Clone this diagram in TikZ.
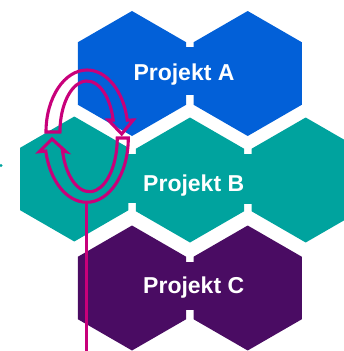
\documentclass[tikz,border=0pt]{standalone}
\usepackage{fontspec}
\setsansfont{Liberation Sans}
\usepackage{tikz}
\usetikzlibrary{shapes.geometric}
\definecolor{projblue}{RGB}{2,96,216}
\definecolor{projteal}{RGB}{0,163,158}
\definecolor{projpurple}{RGB}{74,12,99}
\definecolor{loopmagenta}{RGB}{200,0,122}
\tikzstyle{hex_cell} = [regular polygon, regular polygon sides=6, shape border rotate=30, minimum size=125pt, inner sep=0pt, outer sep=0pt]
\tikzstyle{hex_a} = [hex_cell, fill=projblue]
\tikzstyle{hex_b} = [hex_cell, fill=projteal]
\tikzstyle{hex_c} = [hex_cell, fill=projpurple]
\tikzstyle{label_proj} = [text=white, font=\sffamily\bfseries\fontsize{23}{23}\selectfont, anchor=base, inner sep=0pt]
\tikzstyle{loop_arrow} = [draw=loopmagenta, line width=3.1pt, line join=miter]
\tikzstyle{stem_line} = [draw=loopmagenta, line width=3pt]

\begin{document}
\begin{tikzpicture}[x=1pt, y=1pt]
			\useasboundingbox (0,0) rectangle (343,-351);
			\node (A1) at (132,-73.5) [hex_a] {};
			\node (A2) at (247.7,-73.5) [hex_a] {};
			\node (B1) at (74.3,-179) [hex_b] {};
			\node (B2) at (190,-180) [hex_b] {};
			\node (B3) at (305.7,-180) [hex_b] {};
			\node (C1) at (132,-288) [hex_c] {};
			\node (C2) at (247.7,-288) [hex_c] {};
			
			\fill[projblue] ([yshift=-21pt]A1.east) rectangle ([yshift=27pt]A2.west);
			\fill[projteal] ([yshift=-24pt]B1.east) rectangle ([yshift=26pt]B2.west);
			\fill[projteal] ([yshift=-24pt]B2.east) rectangle ([yshift=26pt]B3.west);
			\fill[projpurple] ([yshift=-22pt]C1.east) rectangle ([yshift=26pt]C2.west);
			\fill[projteal] (1,-165.5) circle (1.6pt);
			
			\node (labA) at (184,-80) [label_proj] {Projekt A};
			\node (labB) at (193.7,-191.7) [label_proj] {Projekt B};
			\node (labC) at (193.7,-293.3) [label_proj] {Projekt C};
			
			\draw[loop_arrow] (46,-132) arc[start angle=180, end angle=11, x radius=41, y radius=62] -- (133.3,-120) -- (121.7,-134) -- (108.3,-120) -- (113.2,-120) arc[start angle=13.6, end angle=180, x radius=27, y radius=51] -- cycle;
			\draw[loop_arrow] (128.3,-138) arc[start angle=0, end angle=-168.3, x radius=41.7, y radius=64.3] -- (39.3,-151.7) -- (52,-139) -- (66,-151.7) -- (62.5,-151) arc[start angle=-166, end angle=0, x radius=27.8, y radius=53.7] -- cycle;
			
			\coordinate (stem_top) at (86.6,-202.3);
			\coordinate (stem_foot) at (86.6,-351);
			\draw[stem_line] (stem_top) -- (stem_foot);
\end{tikzpicture}
\end{document}
